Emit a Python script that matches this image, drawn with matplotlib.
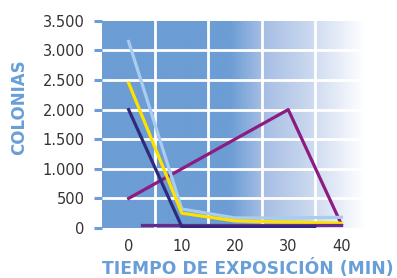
import matplotlib
matplotlib.use("Agg")
from matplotlib import pyplot as plt
import numpy as np

plt.rcParams['font.family'] = ['DejaVu Sans']

# datos
x_celeste = [0, 10, 20, 30, 40]
y_celeste = [3150, 320, 170, 170, 180]

x_amarillo = [0, 10, 20, 30, 40]
y_amarillo = [2450, 250, 120, 100, 80]

x_azul = [0, 10, 35]
y_azul = [2000, 20, 20]

x_magenta = [0, 30, 40]
y_magenta = [500, 2000, 60]

x_morado = [2.5, 40]
y_morado = [50, 50]

xticks = [0, 10, 20, 30, 40]
yticks = [0, 500, 1000, 1500, 2000, 2500, 3000, 3500]
ylabels = ["0", "500", "1.000", "1.500", "2.000", "2.500", "3.000", "3.500"]

fig = plt.figure(figsize=(3.97, 2.78), dpi=100)
ax = fig.add_axes([0.257, 0.180, 0.662, 0.745])

# fondo degradado azul -> blanco
stops_px = [102, 230, 262, 313, 345, 365]
stops_col = [(108, 157, 212), (108, 157, 212), (165, 189, 228),
             (205, 218, 240), (236, 241, 250), (255, 255, 255)]
fr = (np.array(stops_px) - 102) / 263.0
t = np.linspace(0, 1, 400)
grad = np.zeros((1, 400, 3))
for c in range(3):
    grad[0, :, c] = np.interp(t, fr, [s[c] for s in stops_col]) / 255.0
ax.imshow(grad, extent=[0, 1, 0, 1], transform=ax.transAxes,
          aspect="auto", zorder=0)

ax.set_xlim(-5, 44.4)
ax.set_ylim(0, 3500)

# rejilla blanca
for yv in yticks[1:-1]:
    ax.axhline(yv, color="white", lw=2, zorder=1)
for xv in [5, 15, 25, 35]:
    ax.axvline(xv, color="white", lw=2, zorder=1)

lw = 2.3
ax.plot(x_magenta, y_magenta, color="#8c1c80", lw=lw, zorder=2)
ax.plot(x_celeste, y_celeste, color="#a9cdee", lw=lw, zorder=3)
ax.plot(x_amarillo, y_amarillo, color="#ffe100", lw=lw, zorder=4)
ax.plot(x_morado, y_morado, color="#6a2a8a", lw=lw, zorder=5)
ax.plot(x_azul, y_azul, color="#2f2a7c", lw=lw, zorder=6)

for s in ax.spines.values():
    s.set_visible(False)

ax.set_yticks(yticks)
ax.set_yticklabels(ylabels)
ax.set_xticks(xticks)
ax.tick_params(axis="y", length=5.5, width=2.2, color="#6a9ed8",
               labelsize=10.5, labelcolor="#333333", pad=7)
ax.tick_params(axis="x", length=0, labelsize=10.5,
               labelcolor="#333333", pad=8)

fig.text(0.625, 0.035, "TIEMPO DE EXPOSICIÓN (MIN)", color="#6a9ed8",
         fontsize=12.3, fontweight="bold", ha="center", va="center")
fig.text(0.048, 0.615, "COLONIAS", color="#6a9ed8", fontsize=12,
         fontweight="bold", rotation=90, ha="center", va="center")

fig.savefig("out.png", dpi=100)
